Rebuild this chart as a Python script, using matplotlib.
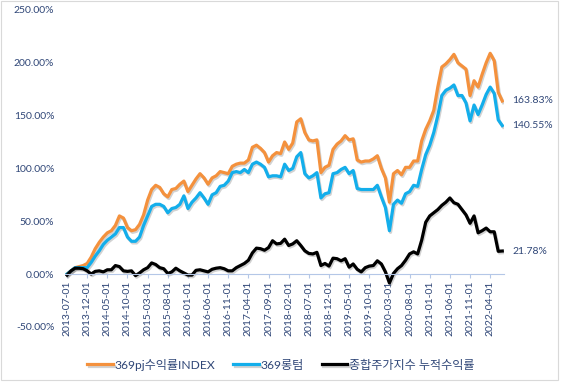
"""Cumulative return of the 369 portfolios vs. the KOSPI index, 2013-07 to 2022-07."""

import matplotlib

matplotlib.use("Agg")
import matplotlib.patheffects as pe
import matplotlib.pyplot as plt
import numpy as np
import pandas as pd
from matplotlib.patches import Rectangle

plt.rcParams["font.family"] = ["Lato", "Noto Sans CJK KR", "DejaVu Sans"]

# monthly points, first day of each month
MONTHS = pd.date_range("2013-07-01", periods=109, freq="MS").strftime("%Y-%m-%d").tolist()

SERIES_NAMES = ["369pj수익률INDEX", "369롱텀", "종합주가지수 누적수익률"]

# cumulative return, %
PJ_INDEX = [
    0, 3, 6, 7, 8, 10, 16, 24, 30, 35, 39, 41, 46, 55, 53, 44, 41, 42, 47, 56,
    70, 80, 84, 82, 76, 73, 80, 81, 85, 88, 78, 84, 90, 95, 91, 85, 91, 93, 97, 96,
    95, 102, 104, 105, 105, 108, 120, 122, 119, 115, 106, 112, 115, 114, 125, 118, 124, 144, 147, 134,
    127, 126, 127, 96, 101, 103, 118, 123, 126, 131, 127, 128, 108, 106, 107, 107, 109, 112, 100, 91,
    68, 95, 98, 94, 101, 101, 107, 107, 126, 137, 145, 155, 177, 196, 199, 203, 208, 200, 197, 194,
    169, 183, 177, 189, 200, 209, 202, 172, 163.83,
]
LONGTERM = [
    0, 3, 6, 6, 6, 6, 11, 17, 22, 28, 32, 35, 38, 44, 44, 35, 31, 31, 35, 46,
    55, 64, 66, 66, 64, 58, 62, 63, 66, 74, 62, 68, 72, 77, 72, 66, 75, 77, 83, 84,
    88, 96, 97, 96, 99, 96, 104, 106, 104, 101, 92, 93, 93, 92, 104, 98, 100, 111, 115, 95,
    91, 93, 96, 72, 76, 77, 95, 96, 99, 101, 95, 98, 81, 80, 80, 80, 80, 84, 73, 63,
    41, 66, 70, 67, 76, 78, 84, 83, 99, 113, 122, 134, 150, 169, 174, 176, 179, 169, 169, 162,
    145, 160, 151, 160, 170, 177, 171, 146, 140.55,
]
KOSPI = [
    -1, 3, 5.5, 5.5, 5, 3, 0, 2.5, 3, 2, 4, 4, 8, 7, 3, 2.5, 3, -1.5, 1, 4,
    6, 10.5, 9, 6, 5, 0.5, 2, 5.5, 3, 1, -1, -1, 3.5, 4, 3, 2, 4.5, 5.5, 6, 5,
    3, 3, 6, 8, 10, 13, 20, 24.5, 24, 22.5, 25, 31.5, 28.5, 29, 33, 27, 28.5, 31.5, 27, 22,
    19.5, 19, 20.5, 8, 10, 7.5, 15, 14.5, 12.5, 14.5, 6.5, 9.5, 4.5, 2, 6, 7.5, 8, 12.5, 9.5, 2,
    -8.5, 0.5, 5, 8, 13, 19, 21, 19, 32, 49, 55, 58, 61, 65, 68, 72, 67.5, 66, 61, 56,
    48, 55, 39, 41, 43.5, 40, 40, 21.5, 21.78,
]

COLORS = ["#F4913D", "#13AEEB", "#000000"]
TEXT = "#2F4677"
AXIS = "#B4C7E7"


def main() -> None:
    fig = plt.figure(figsize=(5.61, 3.83), dpi=100)
    ax = fig.add_axes([0.1166, 0.1467, 0.7816, 0.8272])

    # axis crosses at 0 (set before ticks, set_position resets them)
    for side in ["top", "right", "left"]:
        ax.spines[side].set_visible(False)
    ax.spines["bottom"].set_position(("data", 0))
    ax.spines["bottom"].set_color(AXIS)
    ax.spines["bottom"].set_linewidth(0.8)

    x = np.arange(len(MONTHS))
    shadow = [pe.SimpleLineShadow(offset=(0.8, -1.2), shadow_color="#808080", alpha=0.35), pe.Normal()]
    for vals, color, name in zip([PJ_INDEX, LONGTERM, KOSPI], COLORS, SERIES_NAMES):
        ax.plot(x, vals, color=color, lw=2.3, label=name, path_effects=shadow)
        ax.annotate(f"{vals[-1]:.2f}%", (x[-1], vals[-1]), xytext=(10, 0),
                    textcoords="offset pixels", va="center", ha="left", fontsize=7.5, color=TEXT)

    ax.set_xlim(-0.4, len(MONTHS) - 0.6)
    ax.set_ylim(-50, 250)
    ticks = np.arange(-50, 251, 50)
    ax.set_yticks(ticks)
    ax.set_yticklabels([f"{t:.2f}%" for t in ticks])
    ax.set_xticks(x[::5])
    ax.set_xticklabels(MONTHS[::5])

    ax.tick_params(axis="x", length=3, color=AXIS, pad=1.5, labelsize=7.5, labelcolor=TEXT,
                   labelrotation=90)
    ax.tick_params(axis="y", length=0, pad=8, labelsize=7.5, labelcolor=TEXT)

    fig.legend(loc="center", bbox_to_anchor=(0.501, 0.048), ncol=3, frameon=False,
               fontsize=8.7, handlelength=2.1, handletextpad=0.15, columnspacing=1.5,
               labelcolor=TEXT)

    fig.patches.append(Rectangle((0.0018, 0.0078), 0.9929, 0.9896, transform=fig.transFigure,
                                 fill=False, ec="#D9D9D9", lw=0.8))

    fig.savefig("out.png", dpi=100)
    plt.close(fig)


if __name__ == "__main__":
    main()
